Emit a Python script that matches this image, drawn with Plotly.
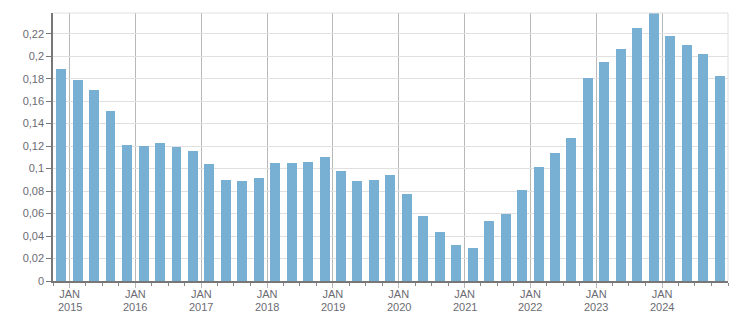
import plotly.graph_objects as go
import pandas as pd

# Quarterly periods (quarter start dates), Q4 2014 .. Q4 2024
quarters = [d.strftime("%Y-%m-%d") for d in pd.date_range("2014-10-01", periods=41, freq="3MS")]

values = [
    0.189, 0.179, 0.170, 0.151, 0.121, 0.120, 0.123, 0.119, 0.116,
    0.104, 0.090, 0.089, 0.092, 0.105, 0.105, 0.106, 0.110,
    0.098, 0.089, 0.090, 0.094, 0.077, 0.058, 0.044, 0.032,
    0.029, 0.053, 0.060, 0.081, 0.101, 0.114, 0.127,
    0.181, 0.195, 0.206, 0.225, 0.238, 0.218, 0.210, 0.202, 0.182,
]

years = list(range(2015, 2025))
year_ticks = [f"{y}-01-01" for y in years]
month_labels = ["JAN"] * len(years)
y_ticks = [i * 0.02 for i in range(12)]

fig = go.Figure()
fig.add_trace(go.Bar(
    x=quarters, y=values,
    xperiod="M3", xperiodalignment="middle",
    width=55 * 86400000,
    marker=dict(color="#78b0d3", line=dict(width=0)),
    hoverinfo="x+y",
))

font = dict(family="Liberation Sans, Arial, sans-serif", size=11, color="#6b6b73")

fig.update_layout(
    width=751, height=313,
    margin=dict(l=53, r=23, t=13, b=32),
    paper_bgcolor="white", plot_bgcolor="white",
    separators=", ",
    showlegend=False,
    font=font,
    bargap=0,
)
fig.update_xaxes(
    type="date",
    range=["2014-10-01", "2025-01-01"],
    tickmode="array", tickvals=year_ticks, ticktext=month_labels,
    showgrid=True, gridcolor="#b8b8b8", gridwidth=1,
    ticks="outside", ticklen=5, tickcolor="#b8b8b8",
    minor=dict(dtick="M3", tick0="2015-01-01", ticks="outside", ticklen=3, tickcolor="#888888", showgrid=False),
    showline=True, linecolor="#777777", linewidth=1.5,
    tickfont=font,
    ticklabelstandoff=-3,
    zeroline=False,
    automargin=False,
    fixedrange=True,
)
fig.update_yaxes(
    range=[0, 0.2384],
    tickmode="array", tickvals=y_ticks,
    ticktext=[("0" if v == 0 else f"{v:.2f}".rstrip("0").replace(".", ",")) for v in y_ticks],
    showgrid=True, gridcolor="#e0e0e0", gridwidth=1,
    ticks="outside", ticklen=5, tickcolor="#777777",
    showline=True, linecolor="#777777", linewidth=1.5,
    tickfont=font,
    zeroline=False,
    automargin=False,
    fixedrange=True,
)
for y, tv in zip(years, year_ticks):
    fig.add_annotation(x=tv, xref="x", y=0, yref="paper", yanchor="top",
                       text=str(y), showarrow=False, font=font, yshift=-19,
                       borderpad=0)
# light frame on top and right
fig.add_shape(type="line", xref="paper", yref="paper", x0=0, x1=1, y0=1, y1=1,
              line=dict(color="#e0e0e0", width=1))
fig.add_shape(type="line", xref="paper", yref="paper", x0=1, x1=1, y0=0, y1=1,
              line=dict(color="#e0e0e0", width=1))

fig.write_html("out.html", config={"displayModeBar": False})
